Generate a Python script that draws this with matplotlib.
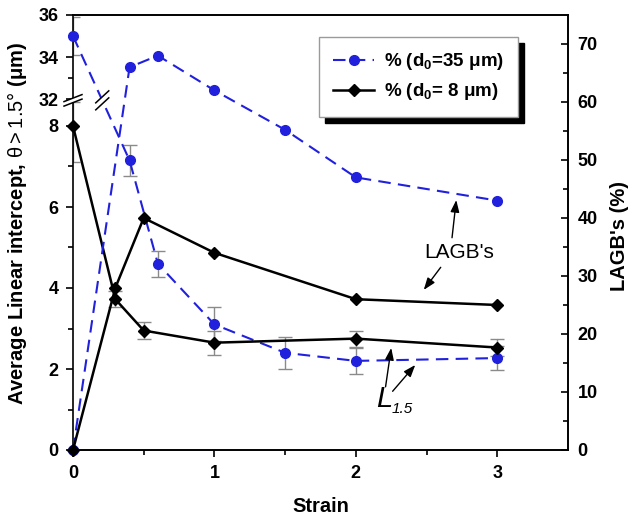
import numpy as np
import matplotlib
matplotlib.use("Agg")
import matplotlib.pyplot as plt
from matplotlib.ticker import FixedLocator
from matplotlib.patches import Polygon

plt.rcParams['font.family'] = ['Liberation Sans', 'DejaVu Sans']
plt.rcParams['mathtext.fontset'] = 'custom'
plt.rcParams['mathtext.rm'] = 'Liberation Sans'
plt.rcParams['mathtext.it'] = 'Liberation Sans:italic'
plt.rcParams['mathtext.bf'] = 'Liberation Sans:bold'

# ---------------- data ----------------
strain_35 = [0, 0.4, 0.6, 1.0, 1.5, 2.0, 3.0]
L15_35 = [35.0, 7.15, 4.6, 3.1, 2.4, 2.2, 2.27]
L15_35_err = [0.9, 0.38, 0.32, 0.42, 0.4, 0.33, 0.3]
lagb_35 = [0, 66, 68, 62, 55.2, 47, 43]

strain_8 = [0, 0.3, 0.5, 1.0, 2.0, 3.0]
L15_8 = [8.0, 3.72, 2.95, 2.65, 2.75, 2.53]
L15_8_err = [0.9, 0.2, 0.21, 0.3, 0.2, 0.22]
lagb_8 = [0, 28, 40, 34, 26, 25]

legend_labels = [r"% (d$_{\mathbf{0}}$=35 μm)", r"% (d$_{\mathbf{0}}$= 8 μm)"]
x_ticks = [0, 1, 2, 3]
x_minor = [0.5, 1.5, 2.5]
left_ticks = [0, 2, 4, 6, 8, 32, 34, 36]
left_minor = [1, 3, 5, 7, 33, 35]
right_ticks = [0, 10, 20, 30, 40, 50, 60, 70]
right_minor = [5, 15, 25, 35, 45, 55, 65]

# ---------------- broken left scale ----------------
H = 435.0
S1 = 40.5 / H
S2 = 21.0 / H
B1, B2 = 8.6, 32.0
T1 = B1 * S1
T2 = 351.0 / H
M = (T2 - T1) / (B2 - B1)


def fwd(y):
    y = np.asarray(y, float)
    return np.where(y <= B1, y * S1,
                    np.where(y >= B2, T2 + (y - B2) * S2, T1 + (y - B1) * M))


def inv(t):
    t = np.asarray(t, float)
    return np.where(t <= T1, t / S1,
                    np.where(t >= T2, B2 + (t - T2) / S2, B1 + (t - T1) / M))


BLUE = '#2020dd'
GRAY = '#8a8a8a'

fig = plt.figure(figsize=(6.3, 5.16), dpi=100)
ax1 = fig.add_axes([73 / 630, 66 / 516, 495 / 630, 435 / 516])
ax1.set_yscale('function', functions=(fwd, inv))
ax2 = ax1.twinx()

XMAX = 3.5
ax1.set_xlim(0, XMAX)
ax1.set_ylim(0, 36)
ax2.set_ylim(0, 75)

# L1.5 series (left axis)
ax1.errorbar(strain_35, L15_35, yerr=L15_35_err, fmt='none', ecolor=GRAY,
             elinewidth=1, capsize=5, capthick=1, zorder=2)
ax1.errorbar(strain_8, L15_8, yerr=L15_8_err, fmt='none', ecolor=GRAY,
             elinewidth=1, capsize=5, capthick=1, zorder=2)
l35, = ax1.plot(strain_35, L15_35, color=BLUE, lw=1.5, dashes=(6, 3.5),
                marker='o', ms=7, mec=BLUE, mfc=BLUE, clip_on=False, zorder=3)
l8, = ax1.plot(strain_8, L15_8, color='k', lw=1.8, marker='D', ms=6,
               clip_on=False, zorder=3)

# LAGB series (right axis)
ax2.plot(strain_35, lagb_35, color=BLUE, lw=1.5, dashes=(6, 3.5),
         marker='o', ms=7, mec=BLUE, mfc=BLUE, clip_on=False, zorder=3)
ax2.plot(strain_8, lagb_8, color='k', lw=1.8, marker='D', ms=6,
         clip_on=False, zorder=3)

# ticks
ax1.xaxis.set_major_locator(FixedLocator(x_ticks))
ax1.xaxis.set_minor_locator(FixedLocator(x_minor))
ax1.yaxis.set_major_locator(FixedLocator(left_ticks))
ax1.yaxis.set_minor_locator(FixedLocator(left_minor))
ax2.yaxis.set_major_locator(FixedLocator(right_ticks))
ax2.yaxis.set_minor_locator(FixedLocator(right_minor))
ax1.set_xticklabels([str(v) for v in x_ticks])
ax1.set_yticklabels([str(v) for v in left_ticks])
ax2.set_yticklabels([str(v) for v in right_ticks])

ax1.tick_params(axis='y', which='major', direction='out', length=5, width=1.2,
                pad=5.5, labelsize=13)
ax1.tick_params(axis='y', which='minor', direction='out', length=3.5, width=1.2)
ax1.tick_params(axis='x', which='major', direction='out', length=5, width=1.2,
                pad=6, labelsize=13)
ax1.tick_params(axis='x', which='minor', direction='out', length=3.5, width=1.2)
ax2.tick_params(axis='y', which='major', direction='in', length=5, width=1.2,
                pad=7, labelsize=13)
ax2.tick_params(axis='y', which='minor', direction='in', length=3.5, width=1.2)
for lab in ax1.get_xticklabels() + ax1.get_yticklabels() + ax2.get_yticklabels():
    lab.set_fontweight('bold')

for ax in (ax1, ax2):
    for sp in ax.spines.values():
        sp.set_linewidth(1.2)
ax2.spines['left'].set_visible(False)

# labels
ax1.set_xlabel('Strain', fontsize=14.5, fontweight='bold')
ax1.xaxis.set_label_coords(0.5, -0.108)
ax1.set_ylabel(r"Average Linear intercept, $\mathrm{θ{>}1.5°}$ (μm)",
               fontsize=14.5, fontweight='bold')
ax1.yaxis.set_label_coords(-0.088, 0.52)
ax2.set_ylabel("LAGB's (%)", fontsize=14.5, fontweight='bold')
ax2.yaxis.set_label_coords(1.085, 0.492)

# legend
leg = ax2.legend([l35, l8], legend_labels, loc='upper left',
                 bbox_to_anchor=(319 / 630, 1 - 37 / 516),
                 bbox_transform=fig.transFigure, borderaxespad=0,
                 prop={'weight': 'bold', 'size': 13.5}, handlelength=2.2,
                 handletextpad=0.5, labelspacing=0.5, borderpad=0.75,
                 fancybox=False, edgecolor='#9a9a9a', framealpha=1,
                 shadow={'ox': 4.5, 'oy': -4.5, 'color': 'black', 'alpha': 1})
leg.get_frame().set_linewidth(1.0)

# annotations
arrow = dict(arrowstyle='-|>,head_length=0.6,head_width=0.22', color='k',
             lw=1.0, mutation_scale=12, shrinkA=0, shrinkB=0)
ax2.text(2.73, 34.0, "LAGB's", fontsize=15, ha='center', va='center')
ax2.annotate('', xy=(2.71, 43.1), xytext=(2.68, 36.6), arrowprops=arrow)
ax2.annotate('', xy=(2.48, 27.6), xytext=(2.60, 31.5), arrowprops=arrow)
ax1.text(2.14, 1.06, "L", fontsize=21, style='italic', ha='left', va='baseline')
ax1.text(2.254, 0.91, "1.5", fontsize=11, style='italic', ha='left', va='baseline')
ax1.annotate('', xy=(2.25, 2.52), xytext=(2.21, 1.56), arrowprops=arrow)
ax1.annotate('', xy=(2.42, 2.1), xytext=(2.26, 1.45), arrowprops=arrow)

# break marks (drawn on the top axes, in axes-fraction coordinates)
PXX, PXY = 1 / 495.0, 1 / 435.0
yb = (T1 + T2) / 2


def draw_break(ax, xa, ya, half, rise, sep):
    lo = [(xa - half * PXX, ya + (-sep / 2 - rise) * PXY),
          (xa + half * PXX, ya + (-sep / 2 + rise) * PXY)]
    hi = [(xa - half * PXX, ya + (sep / 2 - rise) * PXY),
          (xa + half * PXX, ya + (sep / 2 + rise) * PXY)]
    ax.add_patch(Polygon([lo[0], lo[1], hi[1], hi[0]], closed=True,
                         transform=ax.transAxes, facecolor='white',
                         edgecolor='none', clip_on=False, zorder=6))
    for seg in (lo, hi):
        ax.plot([seg[0][0], seg[1][0]], [seg[0][1], seg[1][1]], color='k',
                lw=1.1, transform=ax.transAxes, clip_on=False, zorder=7)


draw_break(ax2, 0.0, yb, 9, 3.5, 4.5)
# where the blue L1.5 segment crosses the break
p0 = np.array([strain_35[0] / XMAX, float(fwd(L15_35[0]))])
p1 = np.array([strain_35[1] / XMAX, float(fwd(L15_35[1]))])
tt = (p0[1] - yb) / (p0[1] - p1[1])
xc = p0[0] + tt * (p1[0] - p0[0])
draw_break(ax2, xc, yb, 6.5, 6.0, 7.0)

fig.savefig('out.png', dpi=100)
